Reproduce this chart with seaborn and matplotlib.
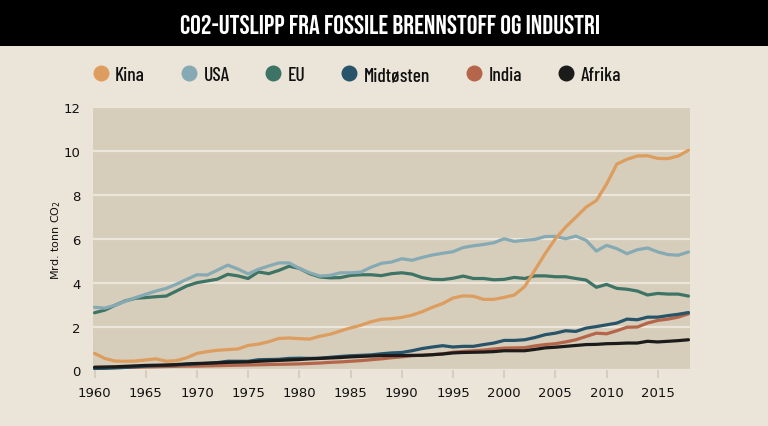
import pandas as pd
import numpy as np
import matplotlib
matplotlib.use("Agg")
import matplotlib.pyplot as plt
from matplotlib.lines import Line2D
from matplotlib.patches import Rectangle
import seaborn as sns

years = list(range(1960, 2019))

kina = [0.78, 0.55, 0.43, 0.42, 0.43, 0.48, 0.53, 0.42, 0.45, 0.58,
        0.78, 0.86, 0.92, 0.95, 0.98, 1.14, 1.20, 1.31, 1.46, 1.48,
        1.45, 1.43, 1.56, 1.65, 1.80, 1.94, 2.06, 2.22, 2.33, 2.36,
        2.42, 2.52, 2.68, 2.88, 3.05, 3.30, 3.40, 3.38, 3.24, 3.24,
        3.33, 3.44, 3.82, 4.57, 5.32, 6.00, 6.53, 6.98, 7.44, 7.74,
        8.49, 9.40, 9.62, 9.77, 9.78, 9.66, 9.65, 9.77, 10.03]
usa = [2.88, 2.84, 2.97, 3.15, 3.32, 3.47, 3.62, 3.74, 3.93, 4.15,
       4.36, 4.35, 4.57, 4.80, 4.62, 4.40, 4.61, 4.76, 4.90, 4.90,
       4.65, 4.45, 4.30, 4.33, 4.45, 4.45, 4.48, 4.70, 4.88, 4.94,
       5.09, 5.02, 5.15, 5.26, 5.34, 5.41, 5.60, 5.68, 5.74, 5.82,
       6.00, 5.88, 5.93, 5.97, 6.10, 6.11, 6.00, 6.12, 5.93, 5.44,
       5.70, 5.55, 5.32, 5.50, 5.58, 5.40, 5.28, 5.25, 5.40]
eu = [2.63, 2.75, 2.97, 3.17, 3.29, 3.32, 3.36, 3.39, 3.62, 3.85,
      4.00, 4.08, 4.16, 4.38, 4.31, 4.19, 4.49, 4.41, 4.56, 4.75,
      4.65, 4.41, 4.26, 4.22, 4.23, 4.33, 4.36, 4.36, 4.32, 4.41,
      4.45, 4.39, 4.23, 4.15, 4.14, 4.20, 4.30, 4.19, 4.19, 4.13,
      4.15, 4.24, 4.19, 4.31, 4.31, 4.27, 4.27, 4.19, 4.12, 3.79,
      3.92, 3.74, 3.70, 3.62, 3.44, 3.51, 3.48, 3.48, 3.39]
midtosten = [0.08, 0.10, 0.12, 0.14, 0.17, 0.20, 0.22, 0.23, 0.25, 0.28,
             0.30, 0.33, 0.36, 0.42, 0.42, 0.42, 0.49, 0.50, 0.51, 0.55,
             0.56, 0.55, 0.56, 0.60, 0.64, 0.67, 0.69, 0.71, 0.76, 0.80,
             0.82, 0.90, 1.00, 1.07, 1.13, 1.07, 1.10, 1.10, 1.18, 1.25,
             1.37, 1.37, 1.40, 1.50, 1.63, 1.70, 1.81, 1.78, 1.93, 2.00,
             2.08, 2.16, 2.34, 2.31, 2.43, 2.43, 2.50, 2.56, 2.64]
india = [0.11, 0.12, 0.13, 0.14, 0.15, 0.16, 0.17, 0.18, 0.19, 0.20,
         0.20, 0.21, 0.22, 0.23, 0.24, 0.25, 0.26, 0.27, 0.28, 0.29,
         0.30, 0.32, 0.34, 0.37, 0.39, 0.42, 0.45, 0.49, 0.53, 0.58,
         0.62, 0.67, 0.70, 0.72, 0.76, 0.83, 0.87, 0.90, 0.93, 0.98,
         1.02, 1.03, 1.04, 1.12, 1.18, 1.22, 1.30, 1.40, 1.55, 1.70,
         1.67, 1.81, 1.97, 1.98, 2.16, 2.28, 2.34, 2.43, 2.58]
afrika = [0.15, 0.16, 0.17, 0.19, 0.21, 0.23, 0.24, 0.25, 0.27, 0.30,
          0.32, 0.33, 0.35, 0.37, 0.38, 0.39, 0.42, 0.44, 0.46, 0.48,
          0.50, 0.53, 0.55, 0.57, 0.59, 0.62, 0.64, 0.66, 0.68, 0.68,
          0.68, 0.69, 0.69, 0.72, 0.75, 0.80, 0.82, 0.83, 0.84, 0.86,
          0.90, 0.90, 0.90, 0.96, 1.03, 1.06, 1.10, 1.14, 1.18, 1.19,
          1.22, 1.23, 1.25, 1.25, 1.33, 1.30, 1.33, 1.36, 1.40]

regions = ["Kina", "USA", "EU", "Midtøsten", "India", "Afrika"]
colors = {"Kina": "#dc9d5e", "USA": "#86aab3", "EU": "#3d7465",
          "Midtøsten": "#285469", "India": "#b5664a", "Afrika": "#1b1b1b"}
draw_order = ["India", "Midtøsten", "Afrika", "EU", "USA", "Kina"]

series = {"Kina": kina, "USA": usa, "EU": eu, "Midtøsten": midtosten,
          "India": india, "Afrika": afrika}
df = pd.concat([pd.DataFrame({"year": years, "value": v, "region": k})
                for k, v in series.items()], ignore_index=True)

bg = "#ebe4d8"
plot_bg = "#d6cdbb"
sns.set_theme(style="white")
plt.rcParams["font.family"] = ["DejaVu Sans"]

fig = plt.figure(figsize=(7.68, 4.27), dpi=100, facecolor=bg)
ax = fig.add_axes([0.1211, 0.130, 0.7767, 0.617])
ax.set_facecolor(plot_bg)

sns.lineplot(data=df, x="year", y="value", hue="region", hue_order=draw_order,
             palette=colors, linewidth=2.3, legend=False, ax=ax)

ax.set_xlim(1959.85, 2018.1)
ax.set_ylim(0, 12)
ax.set_yticks(range(0, 13, 2))
ax.set_xticks(range(1960, 2016, 5))
ax.yaxis.grid(True, color="#ece5da", linewidth=1.6)
ax.set_axisbelow(True)
for s in ax.spines.values():
    s.set_visible(False)
ax.tick_params(axis="y", length=0, pad=9, labelsize=9.5, labelcolor="#111111")
ax.tick_params(axis="x", length=6, width=1.5, color="#d6cfc0", pad=5,
               labelsize=9.5, labelcolor="#111111", bottom=True)
ax.set_xlabel("")
ax.set_ylabel("Mrd. tonn CO$_2$", fontsize=8, color="#111111")
ax.yaxis.set_label_coords(-0.051, 0.5)

# black title band
fig.patches.append(Rectangle((0, 1 - 47 / 427), 1, 47 / 427, transform=fig.transFigure,
                             facecolor="black", edgecolor="none", zorder=0))
fig.text(0.508, 1 - 24 / 427, "CO2-UTSLIPP FRA FOSSILE BRENNSTOFF OG INDUSTRI",
         ha="center", va="center", color="white", fontsize=19.4,
         family=["Bebas Neue", "DejaVu Sans"])

handles = [Line2D([], [], marker="o", linestyle="none", markersize=11.5,
                  markerfacecolor=colors[r], markeredgecolor="none") for r in regions]
fig.legend(handles, regions, loc="center", bbox_to_anchor=(0.464, 1 - 76 / 427),
           ncol=6, frameon=False, handletextpad=0.3, columnspacing=1.8,
           handlelength=0.9, labelcolor="#111111",
           prop={"family": ["Barlow Condensed", "DejaVu Sans"], "size": 14,
                 "weight": "medium"})

fig.savefig("out.png", dpi=100, facecolor=bg)
